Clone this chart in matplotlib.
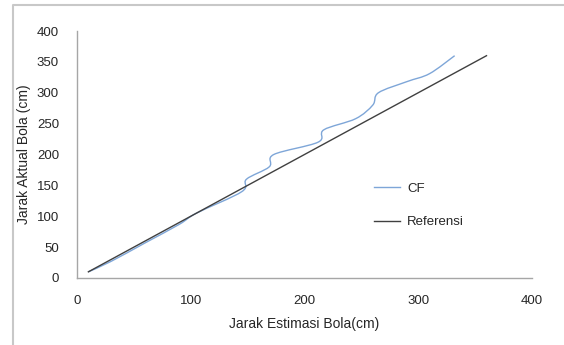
import matplotlib.pyplot as plt
import numpy as np
from matplotlib.lines import Line2D
from matplotlib.patches import PathPatch
from matplotlib.path import Path

plt.rcParams["font.family"] = ["Liberation Sans", "DejaVu Sans"]

# data
cf_x = [10, 30, 60, 90, 105, 145, 149, 169, 173, 212, 217, 245, 260, 265, 290, 310, 332]
cf_y = [10, 27, 57, 87, 105, 140, 160, 180, 200, 220, 240, 258, 280, 300, 318, 331, 360]
ref_x = [10, 360]
ref_y = [10, 360]
x_ticks = [0, 100, 200, 300, 400]
y_ticks = [0, 50, 100, 150, 200, 250, 300, 350, 400]

cf_color = "#7ea6d8"
ref_color = "#404040"
axis_color = "#a6a6a6"
text_color = "#262626"


def smooth_path(xs, ys):
    # curva suavizada tipo Excel (bezier que pasa por los puntos)
    p = np.column_stack([xs, ys]).astype(float)
    ext = np.vstack([p[0], p, p[-1]])
    verts = [p[0]]
    codes = [Path.MOVETO]
    for i in range(len(p) - 1):
        p0, p1, p2, p3 = ext[i], ext[i + 1], ext[i + 2], ext[i + 3]
        c1 = p1 + (p2 - p0) / 6.0
        c2 = p2 - (p3 - p1) / 6.0
        verts += [c1, c2, p2]
        codes += [Path.CURVE4] * 3
    return Path(verts, codes)


fig = plt.figure(figsize=(5.64, 3.45), dpi=100)
ax = fig.add_axes([77 / 564, 67 / 345, 455 / 564, 247 / 345])

ax.add_patch(PathPatch(smooth_path(cf_x, cf_y), fill=False,
                       edgecolor=cf_color, lw=1.0))
ax.plot(ref_x, ref_y, color=ref_color, lw=1.0)

ax.set_xlim(0, 400)
ax.set_ylim(0, 400)
ax.set_xticks(x_ticks)
ax.set_yticks(y_ticks)
ax.tick_params(length=0, labelsize=9.5, colors=text_color)
ax.tick_params(axis="x", pad=12)
ax.tick_params(axis="y", pad=13)
for s in ["top", "right"]:
    ax.spines[s].set_visible(False)
for s in ["left", "bottom"]:
    ax.spines[s].set_color(axis_color)
    ax.spines[s].set_linewidth(1.0)

ax.set_xlabel("Jarak Estimasi Bola(cm)", fontsize=10, color=text_color)
ax.set_ylabel("Jarak Aktual Bola (cm)", fontsize=10, color=text_color)
ax.xaxis.set_label_coords(0.5, -39 / 247)
ax.yaxis.set_label_coords(-46 / 455, 0.5)

handles = [Line2D([], [], color=cf_color, lw=1.0),
           Line2D([], [], color=ref_color, lw=1.0)]
fig.legend(handles, ["CF", "Referensi"], loc="upper left",
           bbox_to_anchor=(367 / 564, 1 - 176 / 345), frameon=False,
           fontsize=9.5, labelspacing=1.6, handlelength=2.0, handletextpad=0.55,
           borderpad=0, labelcolor=text_color)

# marco del grafico
fig.add_artist(Line2D([13 / 564, 13 / 564, 1], [0, 1 - 5 / 345, 1 - 5 / 345],
                      transform=fig.transFigure, color="#c8c8c8", lw=1.5))

fig.savefig("out.png", dpi=100)
